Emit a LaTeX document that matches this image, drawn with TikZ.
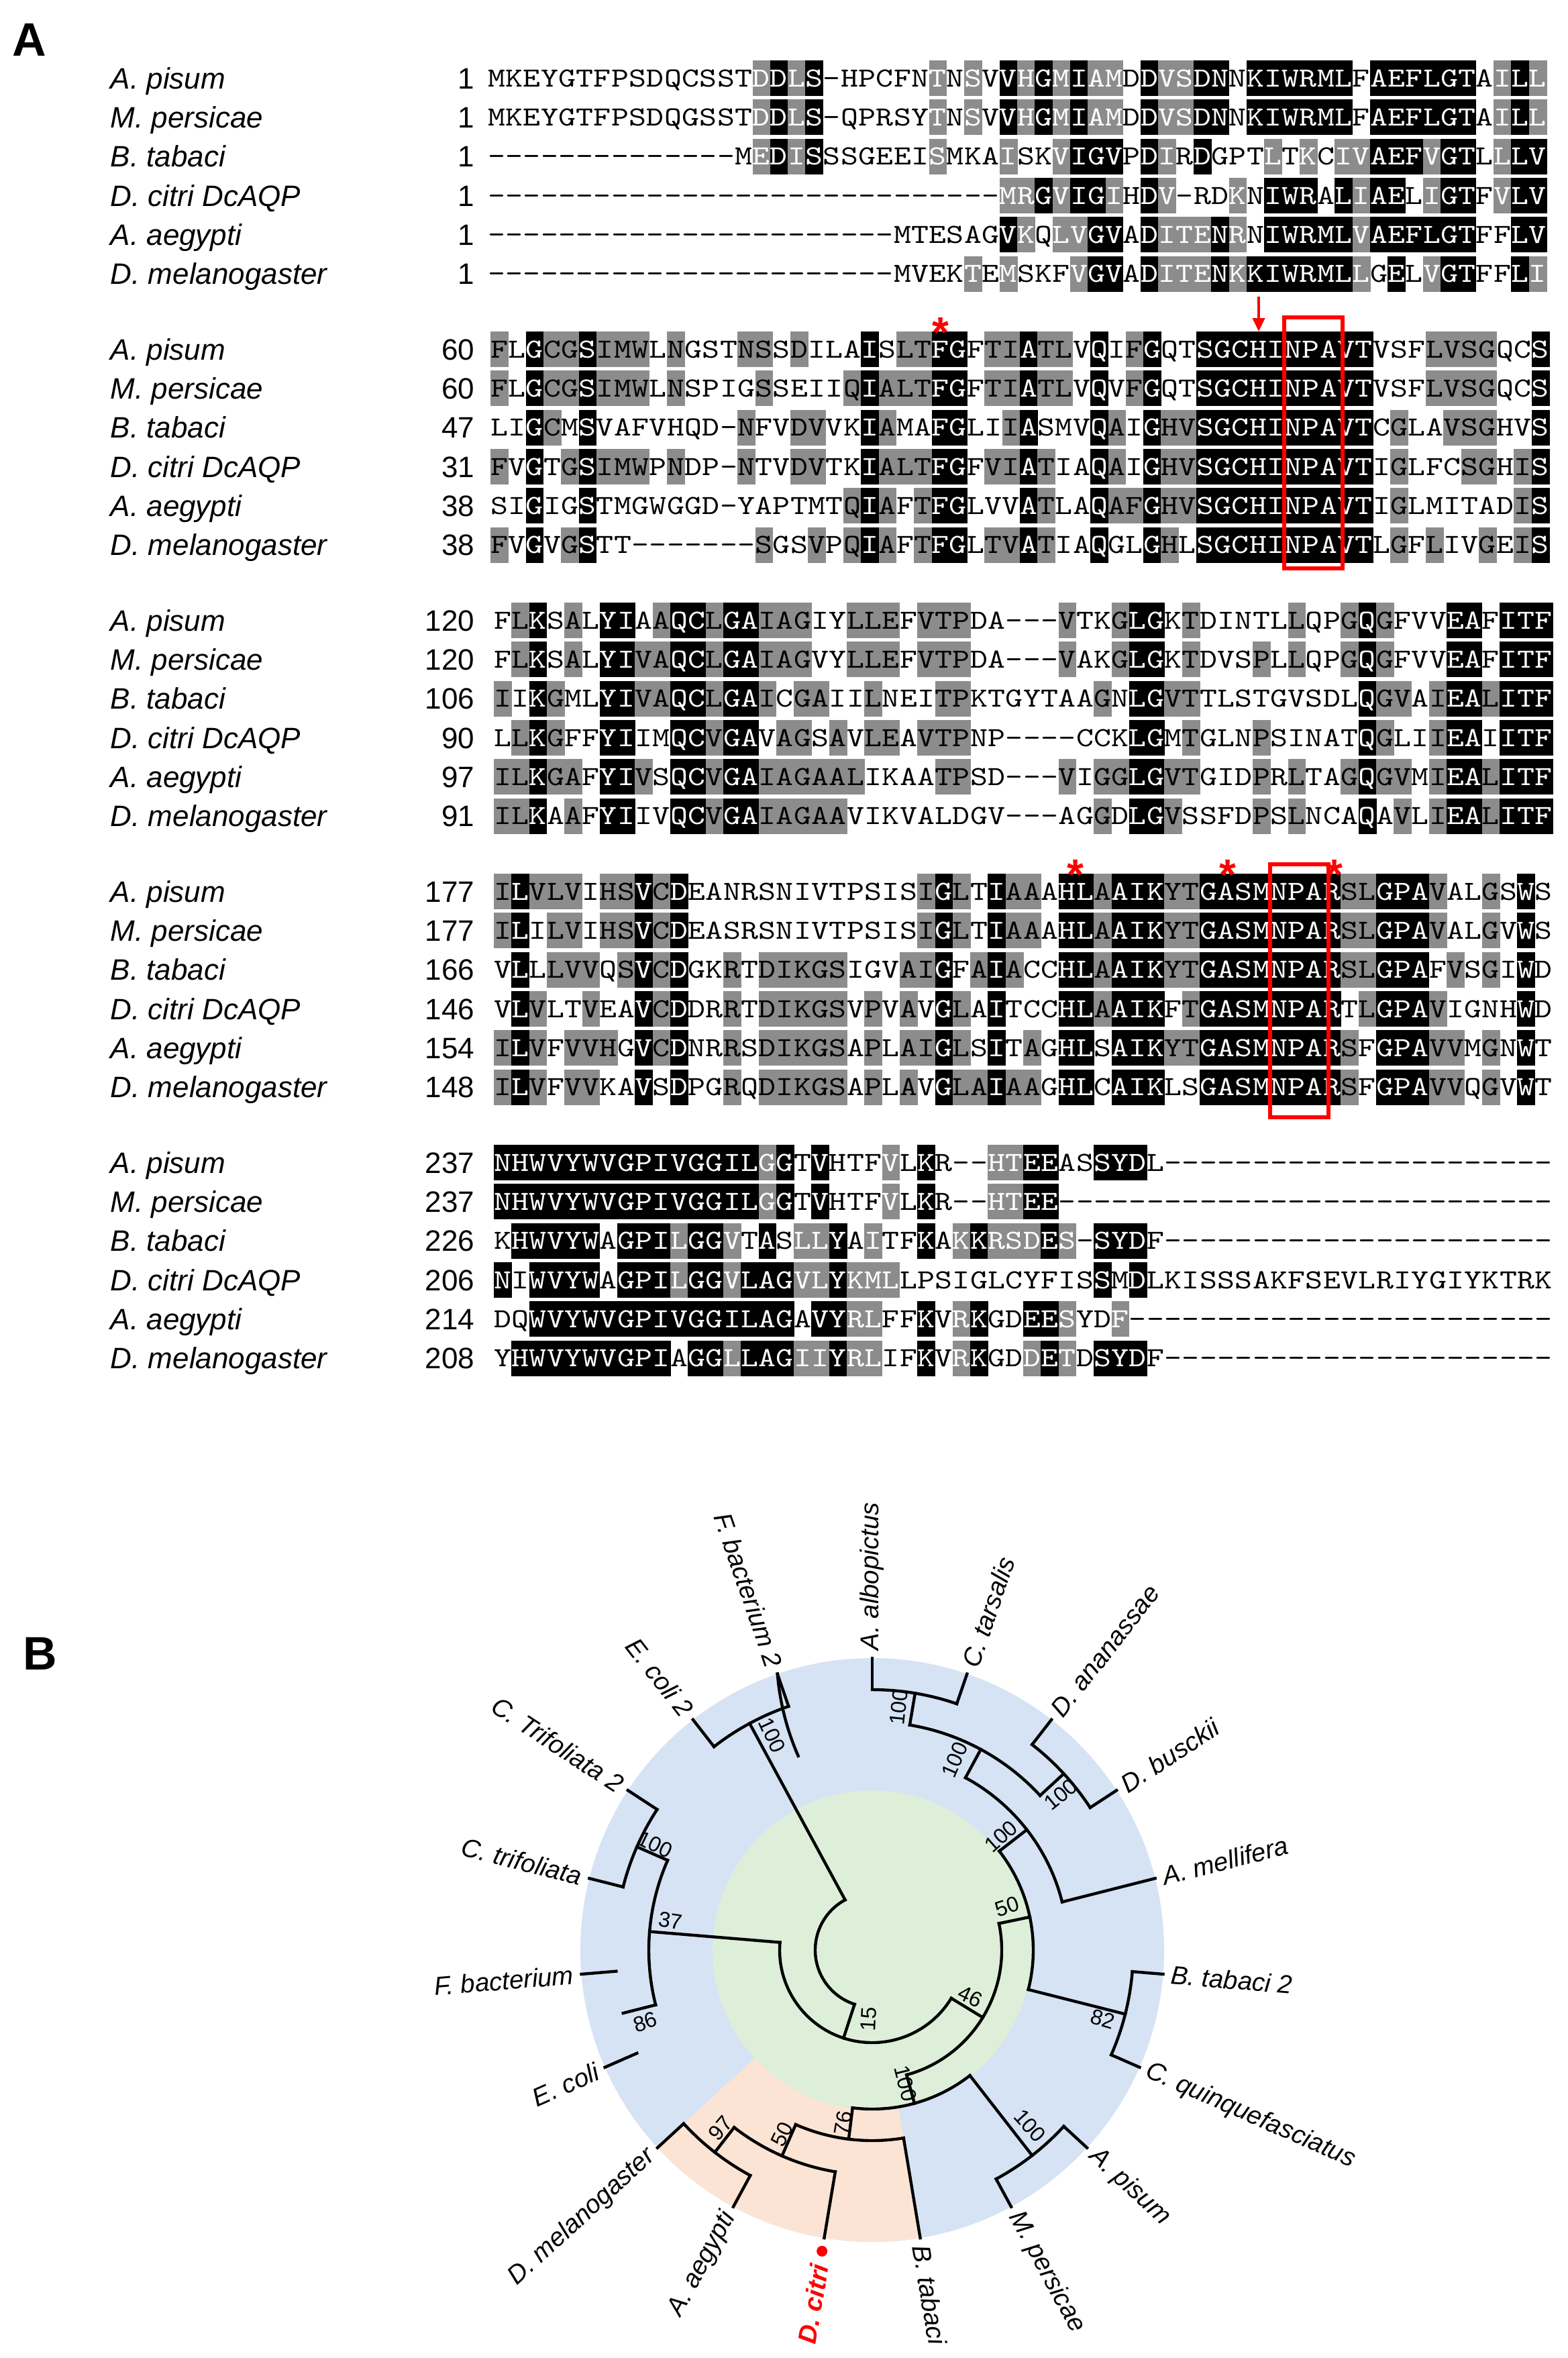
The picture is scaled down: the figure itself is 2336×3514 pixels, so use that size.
\documentclass[tikz,border=0pt]{standalone}
\usepackage{fontspec}
\setmainfont{Liberation Sans}
\usepackage{graphicx}
\usetikzlibrary{arrows.meta}
\definecolor{shgray}{RGB}{140,140,140}
\definecolor{tblue}{RGB}{214,227,244}
\definecolor{tgreen}{RGB}{221,239,217}
\definecolor{tpeach}{RGB}{252,228,213}
\def\alcw{26.3}\def\alhh{26.5}\def\albl{12.6}
\tikzset{
  seqch/.style={font=\ttfamily\fontsize{10.3pt}{10.3pt}\selectfont, inner sep=0pt, anchor=base},
  splabel/.style={font=\itshape\fontsize{11pt}{11pt}\selectfont, inner sep=0pt, anchor=base west},
  numlab/.style={font=\fontsize{11pt}{11pt}\selectfont, inner sep=0pt, anchor=base east},
  panel/.style={font=\bfseries\fontsize{17.5pt}{17.5pt}\selectfont, inner sep=0pt, anchor=base west},
  redstar/.style={font=\bfseries\fontsize{16pt}{16pt}\selectfont, text=red, inner sep=0pt, anchor=base},
  redbox/.style={draw=red, line width=1.3pt},
  br/.style={line width=1.1pt, line cap=rect},
  leaf/.style={font=\itshape\fontsize{9.6pt}{9.6pt}\selectfont, inner sep=0pt},
  boot/.style={font=\fontsize{8pt}{8pt}\selectfont, inner sep=0pt},
}
\newcommand\alcell[7]{%
  \path[fill=#5] ({#3+(#2-1)*\alcw},{#4-\alhh}) rectangle ({#3+#2*\alcw+0.5},{#4+\alhh});%
  \node[seqch,text=#6] (#1c#2) at ({#3+(#2-0.5)*\alcw},{#4+\albl}) {\scalebox{1.2}[1]{#7}};%
}
\ExplSyntaxOn
\str_new:N \l_al_seq_str
\str_new:N \l_al_sh_str
\cs_new_protected:Npn \al_row:nnnnnn #1#2#3#4#5#6
 {
   \str_set:Nn \l_al_seq_str {#4}
   \str_remove_all:Nn \l_al_seq_str { | }
   \str_set:Nn \l_al_sh_str {#5}
   \str_remove_all:Nn \l_al_sh_str { | }
   \int_step_inline:nn { \str_count:N \l_al_seq_str }
    {
      \str_set:Nx \l_tmpa_str { \str_item:Nn \l_al_seq_str {##1} }
      \str_set:Nx \l_tmpb_str { \str_item:Nn \l_al_sh_str {##1} }
      \str_if_eq:VnTF \l_tmpb_str { k }
        { \alcell {#1} {##1} {#2} {#3} {black} {white} {\l_tmpa_str} }
        {
          \str_if_eq:VnTF \l_tmpb_str { g }
            { \alcell {#1} {##1} {#2} {#3} {shgray} {#6} {\l_tmpa_str} }
            { \alcell {#1} {##1} {#2} {#3} {none} {black} {\l_tmpa_str} }
        }
    }
 }
\NewDocumentCommand \alrow { m m m m m m } { \al_row:nnnnnn {#1}{#2}{#3}{#4}{#5}{#6} }
\ExplSyntaxOff
\newcommand\tbr[4]{\coordinate (#1) at (#2:#3); \coordinate (#1b) at (#2:#4); \draw[br] (#1b) -- (#1);}
\newcommand\tarc[4]{\draw[br] (#1b) arc[start angle=#2, end angle=#3, radius=#4];}
\begin{document}
\begin{tikzpicture}[x=0.25pt,y=-0.25pt]
\useasboundingbox (0,0) rectangle (2336,3514);
\node[panel] (pA) at (18,83) {A};
\node[panel] (pB) at (34,2488) {B};
% ---------- labels and numbers ----------
\foreach \yy/\na/\nb/\nc/\nd/\ne/\nf [count=\i] in {116.6/1/1/1/1/1/1, 520.6/60/60/47/31/38/38, 924.6/120/120/106/90/97/91, 1328.6/177/177/166/146/154/148, 1732.6/237/237/226/206/214/208}{
  \node[splabel] (la\i) at (164,\yy+15.5) {A. pisum};
  \node[splabel] (lb\i) at (164,\yy+58.3+15.5) {M. persicae};
  \node[splabel] (lc\i) at (164,\yy+116.6+15.5) {B. tabaci};
  \node[splabel] (ld\i) at (164,\yy+174.9+15.5) {D. citri DcAQP};
  \node[splabel] (le\i) at (164,\yy+233.2+15.5) {A. aegypti};
  \node[splabel] (lf\i) at (164,\yy+291.5+15.5) {D. melanogaster};
  \node[numlab] (na\i) at (708,\yy+15.5) {\na};
  \node[numlab] (nb\i) at (708,\yy+58.3+15.5) {\nb};
  \node[numlab] (nc\i) at (708,\yy+116.6+15.5) {\nc};
  \node[numlab] (nd\i) at (708,\yy+174.9+15.5) {\nd};
  \node[numlab] (ne\i) at (708,\yy+233.2+15.5) {\ne};
  \node[numlab] (nf\i) at (708,\yy+291.5+15.5) {\nf};
}
% ---------- block 1 ----------
\alrow{b1r1}{727}{116.6}{MKEYGTFPSD|QCSSTDDLS-|HPCFNTNSVV|HGMIAMDDVS|DNNKIWRMLF|AEFLGTAILL}{..........|.....gkgk.|.....g.g.k|gkgkgg.kgg|kk.kkkkkk.|kkkkkk.gkg}{white}
\alrow{b1r2}{727}{174.9}{MKEYGTFPSD|QGSSTDDLS-|QPRSYTNSVV|HGMIAMDDVS|DNNKIWRMLF|AEFLGTAILL}{..........|.....gkgk.|.....g.g.k|gkgkgg.kgg|kk.kkkkkk.|kkkkkk.gkg}{white}
\alrow{b1r3}{727}{233.2}{----------|----MEDISS|SGEEISMKAI|SKVIGVPDIR|DGPTLTKCIV|AEFVGTLLLV}{..........|.....gkgk.|.....g...g|..gkkk.kg.|k...g.g.gg|kkkgkk.gkk}{white}
\alrow{b1r4}{727}{291.5}{----------|----------|---------M|RGVIGIHDV-|RDKNIWRALI|AELIGTFVLV}{..........|..........|.........g|gkgkkg.kg.|..g.kkk.kg|kk.gkk.gkk}{white}
\alrow{b1r5}{727}{349.8}{----------|----------|---MTESAGV|KQLVGVADIT|ENRNIWRMLV|AEFLGTFFLV}{..........|..........|.........k|g.ggkk.kgg|gkg.kkkkkg|kkkkkk..kk}{white}
\alrow{b1r6}{727}{408.1}{----------|----------|---MVEKTEM|SKFVGVADIT|ENKKIWRMLL|GELVGTFFLI}{..........|..........|.......g.g|...gkk.kgg|gkgkkkkkkg|.k.gkk..kg}{white}
% ---------- block 2 ----------
\alrow{b2r1}{731}{520.6}{FLGCGSIMWL|NGSTNSSDIL|AISLTFGFTI|ATLVQIFGQT|SGCHINPAVT|VSFLVSGQCS}{g.kggkggg.|g...gg.g..|.k.ggkk.gg|kgg.k.gk..|kkkkkkkkkk|...gggg..k}{black}
\alrow{b2r2}{731}{578.9}{FLGCGSIMWL|NSPIGSSEII|QIALTFGFTI|ATLVQVFGQT|SGCHINPAVT|VSFLVSGQCS}{g.kggkggg.|g....g....|gkgggkk.gg|kgg.k.gk..|kkkkkkkkkk|...gggg..k}{black}
\alrow{b2r3}{731}{637.2}{LIGCMSVAFV|HQD-NFVDVV|KIAMAFGLII|ASMVQAIGHV|SGCHINPAVT|CGLAVSGHVS}{..kg.k....|....g..gg.|.kg..kk..g|k...kg.kgg|kkkkkkkkkk|.g..ggg..k}{black}
\alrow{b2r4}{731}{695.5}{FVGTGSIMWP|NDP-NTVDVT|KIALTFGFVI|ATIAQAIGHV|SGCHINPAVT|IGLFCSGHIS}{g.k.gkggg.|g...g..gg.|.kgggkk.gg|kg..kg.kgg|kkkkkkkkkk|.g...gg.gk}{black}
\alrow{b2r5}{731}{753.8}{SIGIGSTMGW|GGD-YAPTMT|QIAFTFGLVV|ATLAQAFGHV|SGCHINPAVT|IGLMITADIS}{..k..k....|..........|gkg.gkk...|kg..kggkgg|kkkkkkkkkk|.g......gk}{black}
\alrow{b2r6}{731}{812.1}{FVGVGSTT--|-----SGSVP|QIAFTFGLTV|ATIAQGLGHL|SGCHINPAVT|LGFLIVGEIS}{g.k.gk....|.....g..g.|gkg.gkk.gg|kg..k..kg.|kkkkkkkkkk|.g.g..g.gk}{black}
% ---------- block 3 ----------
\alrow{b3r1}{736}{924.6}{FLKSALYIAA|QCLGAIAGIY|LLEFVTPDA-|--VTKGLGKT|DINTLLQPGQ|GFVVEAFITF}{.gk.g.kk.g|kkgkkggg..|ggg.ggg...|..g..gkk.g|.....g..gk|g...kk.kkk}{black}
\alrow{b3r2}{736}{982.9}{FLKSALYIVA|QCLGAIAGVY|LLEFVTPDA-|--VAKGLGKT|DVSPLLQPGQ|GFVVEAFITF}{.gk.g.kkgg|kkgkkggg..|ggg.ggg...|..g..gkk.g|...g.g..gk|g...kk.kkk}{black}
\alrow{b3r3}{736}{1041.2}{IIKGMLYIVA|QCLGAICGAI|ILNEITPKTG|YTAAGNLGVT|TLSTGVSDLQ|GVAIEALITF}{g.kg..kkgg|kkgkkg.gg.|.g...gg...|....g.kkgg|.........k|gg.gkkgkkk}{black}
\alrow{b3r4}{736}{1099.5}{LLKGFFYIIM|QCVGAVAGSA|VLEAVTPNP-|---CCKLGMT|GLNPSINATQ|GLIIEAIITF}{.gkg..kk..|kkgkk.gg.g|.gg.ggg...|......kk.g|...g.....k|g..gkk.kkk}{black}
\alrow{b3r5}{736}{1157.8}{ILKGAFYIVS|QCVGAIAGAA|LIKAATPSD-|--VIGGLGVT|GIDPRLTAGQ|GVMIEALITF}{ggkgg.kkg.|kkgkkggggg|g....gg...|..g.ggkkgg|...g.g..gk|gg.gkkgkkk}{black}
\alrow{b3r6}{736}{1216.1}{ILKAAFYIIV|QCVGAIAGAA|VIKVALDGV-|--AGGDLGVS|SFDPSLNCAQ|AVLIEALITF}{ggk.g.kk..|kkgkkggggg|..........|....g.kkg.|...g.g...k|.g.gkkgkkk}{black}
% ---------- block 4 ----------
\alrow{b4r1}{736}{1328.6}{ILVLVIHSVC|DEANRSNIVT|PSISIGLTIA|AAHLAAIKYT|GASMNPARSL|GPAVALGSWS}{gkggg.ggkg|k.........|....gkg.kg|g.kkgkkkgg|kkkkkkkkgg|kkkg..g.k.}{black}
\alrow{b4r2}{736}{1386.9}{ILILVIHSVC|DEASRSNIVT|PSISIGLTIA|AAHLAAIKYT|GASMNPARSL|GPAVALGVWS}{gk.gg.ggkg|k.........|....gkg.kg|g.kkgkkkgg|kkkkkkkkgg|kkkg..g.k.}{black}
\alrow{b4r3}{736}{1445.2}{VLLLVVQSVC|DGKRTDIKGS|IGVAIGFAIA|CCHLAAIKYT|GASMNPARSL|GPAFVSGIWD}{.k.ggg.gkg|k..g.ggggg|...ggk.gkg|..kkgkkkgg|kkkkkkkkgg|kkk.g.g.k.}{black}
\alrow{b4r4}{736}{1503.5}{VLVLTVEAVC|DDRRTDIKGS|VPVAVGLAIT|CCHLAAIKFT|GASMNPARTL|GPAVIGNHWD}{.kg..g..kg|k..g.ggggg|.g.g.kg.k.|..kkgkkk.g|kkkkkkkk.g|kkkg....k.}{black}
\alrow{b4r5}{736}{1561.8}{ILVFVVHGVC|DNRRSDIKGS|APLAIGLSIT|AGHLSAIKYT|GASMNPARSF|GPAVVMGNWT}{gkg.ggg.kg|k..g.ggggg|.g.ggkg.k.|g.kk.kkkgg|kkkkkkkkg.|kkkgg.g.k.}{black}
\alrow{b4r6}{736}{1620.1}{ILVFVVKAVS|DPGRQDIKGS|APLAVGLAIA|AGHLCAIKLS|GASMNPARSF|GPAVVQGVWT}{gkg.gg..k.|k..g.ggggg|.g.g.kggkg|g.kk.kkk..|kkkkkkkkg.|kkkgg.g.k.}{black}
% ---------- block 5 ----------
\alrow{b5r1}{736}{1732.6}{NHWVYWVGPI|VGGILGGTVH|TFVLKR--HT|EEASSYDL--|----------|----------}{kkkkkkkkkk|kkkkkgk.k.|..g.k...gg|kk..kkk...|..........|..........}{white}
\alrow{b5r2}{736}{1790.9}{NHWVYWVGPI|VGGILGGTVH|TFVLKR--HT|EE--------|----------|----------}{kkkkkkkkkk|kkkkkgk.k.|..g.k...gg|kk........|..........|..........}{white}
\alrow{b5r3}{736}{1849.2}{KHWVYWAGPI|LGGVTASLLY|AITFKAKKRS|DES-SYDF--|----------|----------}{.kkkkk.kkk|gkkg.k.ggk|.g..k.gkgg|gkg.kkk...|..........|..........}{white}
\alrow{b5r4}{736}{1907.5}{NIWVYWAGPI|LGGVLAGVLY|KMLLPSIGLC|YFISSMDLKI|SSSAKFSEVL|RIYGIYKTRK}{k.kkkk.kkk|gkkgkkkggk|ggg.......|....k.k...|..........|..........}{white}
\alrow{b5r5}{736}{1965.8}{DQWVYWVGPI|VGGILAGAVY|RLFFKVRKGD|EESYDF----|----------|----------}{..kkkkkkkk|kkkkkkk.kk|gg..k.gk..|kkg..g....|..........|..........}{white}
\alrow{b5r6}{736}{2024.1}{YHWVYWVGPI|AGGLLAGIIY|RLIFKVRKGD|DETDSYDF--|----------|----------}{.kkkkkkkkk|.kkgkkkggk|gg..k.gk..|gkg.kkk...|..........|..........}{white}
% ---------- red marks ----------
\node[redstar] (st1) at (1402,517) {*};
\coordinate (arrA) at (1876,442);
\coordinate (arrB) at (1876,494);
\draw[red, line width=1pt, -{Triangle[length=5pt,width=4.5pt]}] (arrA) -- (arrB);
\draw[redbox] (1914,473) rectangle (2001,847);
\node[redstar] (st2) at (1603,1325) {*};
\node[redstar] (st3) at (1830,1325) {*};
\node[redstar] (st4) at (1989,1325) {*};
\draw[redbox] (1893,1288) rectangle (1980,1665);
% ---------- tree ----------
\begin{scope}[shift={(1300,2906)}, y=0.25pt]
\fill[tblue] (0,0) circle[radius=435];
\fill[tpeach] (0,0) -- (222.63:435) arc[start angle=222.63, end angle=279.47, radius=435] -- cycle;
\fill[tgreen] (0,0) circle[radius=238];
% leaves
\tbr{alb}{90}{435}{388}
\tbr{tar}{71.05}{435}{388}
\tbr{ana}{52.11}{435}{388}
\tbr{bus}{33.16}{435}{388}
\tbr{mel}{14.21}{435}{292}
\tbr{tabb}{-4.74}{435}{389}
\tbr{qui}{-23.68}{435}{389}
\tbr{pis}{-42.63}{435}{388}
\tbr{per}{-61.58}{435}{388}
\tbr{tab}{-80.53}{435}{284}
\tbr{cit}{-99.47}{435}{335}
\tbr{aeg}{-118.42}{435}{382}
\tbr{dme}{-137.37}{435}{382}
\tbr{eco}{-156.32}{435}{383}
\tbr{fba}{-175.26}{435}{383}
\tbr{ctr}{-194.21}{435}{383}
\tbr{ctrb}{-213.16}{435}{383}
\tbr{ecob}{-232.11}{435}{384}
\tbr{fbab}{-251.05}{435}{384}
% internal
\tbr{Na}{80.53}{388}{340}
\tbr{Nd}{42.63}{388}{340}
\tbr{Nc}{61.58}{340}{292}
\tbr{Ne}{37.89}{292}{240}
\tbr{Nf}{-14.21}{389}{240}
\tbr{Ng}{11.84}{240}{193}
\tbr{Nk}{-52.1}{388}{237}
\tbr{Nn}{-127.9}{382}{335}
\tbr{Nl}{-113.68}{335}{284}
\tbr{Nj}{-97.1}{284}{237}
\tbr{Ni}{-74.6}{237}{193}
\tbr{Nh}{-31.38}{193}{138}
\tbr{Nct}{-203.68}{383}{333}
\tbr{Nm}{-165.79}{383}{333}
\tbr{Nq}{-184.74}{333}{138}
\tbr{Np}{-108.06}{138}{85}
\tbr{Nfb}{-241.58}{384}{85}
% arcs
\tarc{alb}{90}{71.05}{388}
\tarc{ana}{52.11}{33.16}{388}
\tarc{Na}{80.53}{42.63}{340}
\tarc{Nc}{61.58}{14.21}{292}
\tarc{tabb}{-4.74}{-23.68}{389}
\tarc{Ne}{37.89}{-14.21}{240}
\tarc{pis}{-42.63}{-61.58}{388}
\tarc{aeg}{-118.42}{-137.37}{382}
\tarc{cit}{-99.47}{-127.9}{335}
\tarc{tab}{-80.53}{-113.68}{284}
\tarc{Nk}{-52.1}{-97.1}{237}
\tarc{Ng}{11.84}{-74.6}{193}
\tarc{Nq}{175.26}{328.62}{138}
\tarc{ctrb}{146.84}{165.79}{383}
\tarc{fba}{184.74}{203.68}{383}
\tarc{Nct}{156.32}{194.21}{333}
\tarc{fbab}{108.95}{127.89}{384}
\tarc{Nfb}{118.42}{251.94}{85}
% leaf labels
\node[leaf, anchor=west, rotate=90] (lalb) at (90:446) {A. albopictus};
\node[leaf, anchor=west, rotate=71.05] (ltar) at (71.05:446) {C. tarsalis};
\node[leaf, anchor=west, rotate=52.11] (lana) at (52.11:446) {D. ananassae};
\node[leaf, anchor=west, rotate=33.16] (lbus) at (33.16:446) {D. busckii};
\node[leaf, anchor=west, rotate=14.21] (lmel) at (14.21:446) {A. mellifera};
\node[leaf, anchor=west, rotate=-4.74] (ltabb) at (-4.74:446) {B. tabaci 2};
\node[leaf, anchor=west, rotate=-23.68] (lqui) at (-23.68:446) {C. quinquefasciatus};
\node[leaf, anchor=west, rotate=-42.63] (lpis) at (-42.63:446) {A. pisum};
\node[leaf, anchor=west, rotate=-61.58] (lper) at (-61.58:446) {M. persicae};
\node[leaf, anchor=west, rotate=-80.53] (ltab) at (-80.53:446) {B. tabaci};
\node[circle, fill=red, inner sep=0pt, minimum size=4pt] (dot) at (-99.47:455) {};
\node[leaf, anchor=east, rotate=80.53, text=red, font=\bfseries\itshape\fontsize{9.6pt}{9.6pt}\selectfont] (lcit) at (-99.47:474) {D. citri};
\node[leaf, anchor=east, rotate=61.58] (laeg) at (-118.42:446) {A. aegypti};
\node[leaf, anchor=east, rotate=42.63] (ldme) at (-137.37:446) {D. melanogaster};
\node[leaf, anchor=east, rotate=23.68] (leco) at (-156.32:446) {E. coli};
\node[leaf, anchor=east, rotate=4.74] (lfba) at (-175.26:446) {F. bacterium};
\node[leaf, anchor=east, rotate=-14.21] (lctr) at (-194.21:446) {C. trifoliata};
\node[leaf, anchor=east, rotate=-33.16] (lctrb) at (-213.16:446) {C. Trifoliata 2};
\node[leaf, anchor=east, rotate=-52.11] (lecob) at (-232.11:446) {E. coli 2};
\node[leaf, anchor=east, rotate=-71.05] (lfbab) at (-251.05:446) {F. bacterium 2};
% bootstrap values
\node[boot, rotate=83.7] (bNa) at (83.7:364) {100};
\node[boot, rotate=66.5] (bNc) at (66.5:309) {100};
\node[boot, rotate=39.5] (bNd) at (39.5:364) {100};
\node[boot, rotate=41.4] (bNe) at (41.4:256) {100};
\node[boot, rotate=17.9] (bNg) at (17.9:211) {50};
\node[boot, rotate=-16.7] (bNf) at (-16.7:359) {82};
\node[boot, rotate=-25.3] (bNh) at (-25.3:161.5) {46};
\node[boot, rotate=-76] (bNi) at (-76:205) {100};
\node[boot, rotate=-48.1] (bNk) at (-48.1:352) {100};
\node[boot, rotate=80.5] (bNj) at (260.5:261.6) {76};
\node[boot, rotate=63.9] (bNl) at (243.9:306) {50};
\node[boot, rotate=49.6] (bNn) at (229.6:349) {97};
\node[boot, rotate=17.6] (bNm) at (197.6:355) {86};
\node[boot, rotate=-8.3] (bNq) at (171.7:304) {37};
\node[boot, rotate=-25.9] (bNct) at (154.1:360) {100};
\node[boot, rotate=-65] (bNfb) at (115:353) {100};
\node[boot, rotate=87] (bNp) at (267:103) {15};
\end{scope}
\end{tikzpicture}
\end{document}
